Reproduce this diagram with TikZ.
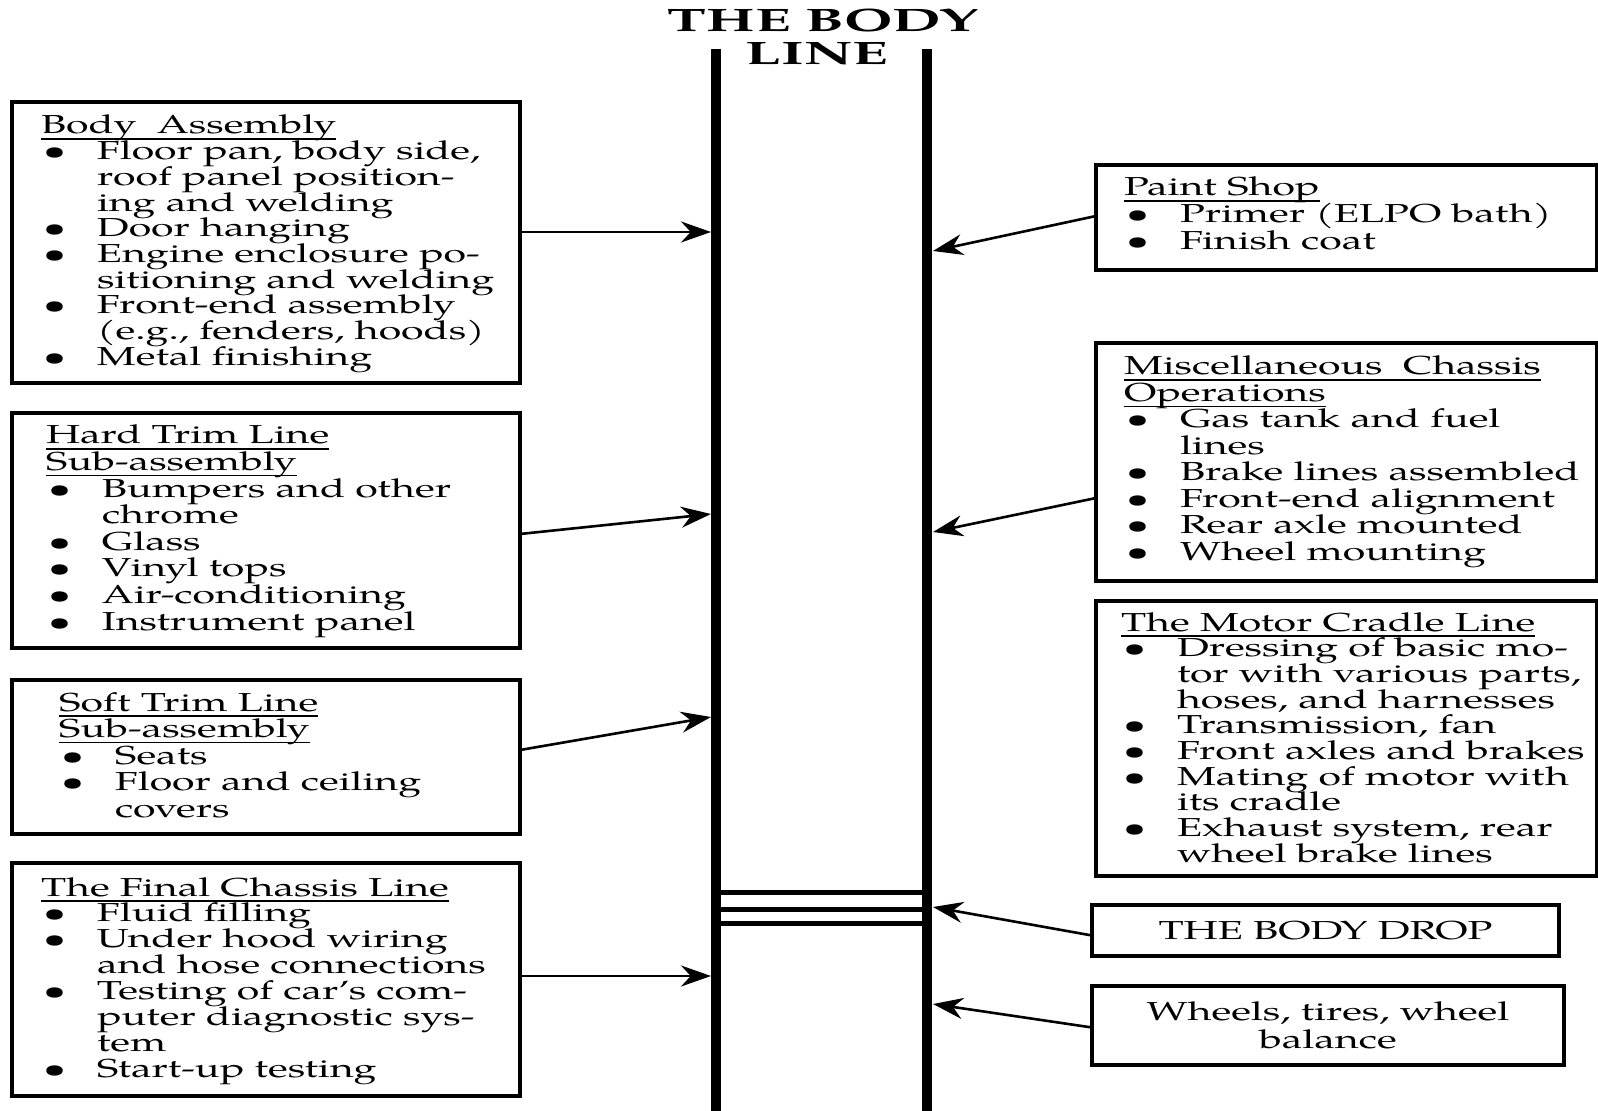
\documentclass[tikz,border=0pt]{standalone}
\usepackage{fontspec}
\setmainfont{TeX Gyre Pagella}[FakeStretch=1.58]
\newfontfamily\headfont{TeX Gyre Pagella}[FakeStretch=1.8]
\usetikzlibrary{arrows.meta}

% text block helpers: first baseline sits at the node's base anchor,
% lines are always exactly one baselineskip apart
\newcommand\boxtext[2]{\parbox[t]{260pt}{\fontsize{13pt}{#1}\selectfont
  \lineskiplimit=-100pt\lineskip=0pt\raggedright #2}}
\newsavebox\headbox
\newcommand\head[1]{\leavevmode\sbox\headbox{#1}\rlap{\rule[-2.8pt]{\wd\headbox}{0.6pt}}\usebox\headbox}
\newcommand\bul[1]{\hspace*{1pt}\makebox[27pt][l]{\textbullet}#1}
\newcommand\cnt[1]{\hspace*{28pt}#1}

\tikzset{
  rail/.style={line width=5pt},
  crossbar/.style={line width=2.5pt},
  panel/.style={draw, line width=2pt, rectangle, inner sep=0pt, outer sep=0pt, anchor=north west},
  listtext/.style={anchor=base west, inner sep=0pt, outer sep=0pt},
  feed/.style={line width=1.3pt, -{Stealth[length=15pt,width=10.5pt]}},
  plain/.style={font=\fontsize{13pt}{14pt}\selectfont, align=center},
}

\begin{document}
\begin{tikzpicture}[x=0.5pt, y=-0.5pt]
\useasboundingbox (0,0) rectangle (1598,1111);
\fill[white] (0,0) rectangle (1598,1111);

% heading
\node[anchor=base, inner sep=0pt] (title1) at (823,32) {\headfont\bfseries\fontsize{16.2pt}{17pt}\selectfont THE BODY};
\node[anchor=base, inner sep=0pt] (title2) at (817,65) {\headfont\bfseries\fontsize{16.2pt}{17pt}\selectfont LINE};

% the body line: two rails and the body-drop cross bars
\draw[rail] (716,49) -- (716,1111);
\draw[rail] (927,49) -- (927,1111);
\draw[crossbar] (716,892) -- (927,892);
\draw[crossbar] (716,909) -- (927,909);
\draw[crossbar] (716,923) -- (927,923);

% left side panels
\node[panel, minimum width=254pt, minimum height=140.5pt] (body) at (12,102) {};
\node[listtext] (bodyT) at (41,134) {\boxtext{12.85pt}{%
\head{Body\ \ Assembly}\\
\bul{Floor pan, body side,}\\
\cnt{roof panel position-}\\
\cnt{ing and welding}\\
\bul{Door hanging}\\
\bul{Engine enclosure po-}\\
\cnt{sitioning and welding}\\
\bul{Front-end assembly}\\
\cnt{(e.g., fenders, hoods)}\\
\bul{Metal finishing}}};

\node[panel, minimum width=254pt, minimum height=117.5pt] (hard) at (12,413) {};
\node[listtext] (hardT) at (46,444) {\boxtext{13.3pt}{%
\head{Hard Trim Line}\\
\head{Sub-assembly}\\
\bul{Bumpers and other}\\
\cnt{chrome}\\
\bul{Glass}\\
\bul{Vinyl tops}\\
\bul{Air-conditioning}\\
\bul{Instrument panel}}};

\node[panel, minimum width=254pt, minimum height=77pt] (soft) at (12,680) {};
\node[listtext] (softT) at (59,711) {\boxtext{13.25pt}{%
\head{Soft Trim Line}\\
\head{Sub-assembly}\\
\bul{Seats}\\
\bul{Floor and ceiling}\\
\cnt{covers}}};

\node[panel, minimum width=254pt, minimum height=116.5pt] (final) at (12,863) {};
\node[listtext] (finalT) at (41,896) {\boxtext{12.95pt}{%
\head{The Final Chassis Line}\\
\bul{Fluid filling}\\
\bul{Under hood wiring}\\
\cnt{and hose connections}\\
\bul{Testing of car’s com-}\\
\cnt{puter diagnostic sys-}\\
\cnt{tem}\\
\bul{Start-up testing}}};

% right side panels
\node[panel, minimum width=250.5pt, minimum height=52.5pt] (paint) at (1096,165) {};
\node[listtext] (paintT) at (1124,196) {\boxtext{13.5pt}{%
\head{Paint Shop}\\
\bul{Primer (ELPO bath)}\\
\bul{Finish coat}}};

\node[panel, minimum width=250.5pt, minimum height=119pt] (misc) at (1096,343) {};
\node[listtext] (miscT) at (1124,375) {\boxtext{13.25pt}{%
\head{Miscellaneous\ \ Chassis}\\
\head{Operations}\\
\bul{Gas tank and fuel}\\
\cnt{lines}\\
\bul{Brake lines assembled}\\
\bul{Front-end alignment}\\
\bul{Rear axle mounted}\\
\bul{Wheel mounting}}};

\node[panel, minimum width=250.5pt, minimum height=137.5pt] (motor) at (1096,601) {};
\node[listtext] (motorT) at (1121,631) {\boxtext{12.85pt}{%
\head{The Motor Cradle Line}\\
\bul{Dressing of basic mo-}\\
\cnt{tor with various parts,}\\
\cnt{hoses, and harnesses}\\
\bul{Transmission, fan}\\
\bul{Front axles and brakes}\\
\bul{Mating of motor with}\\
\cnt{its cradle}\\
\bul{Exhaust system, rear}\\
\cnt{wheel brake lines}}};

\node[panel, plain, minimum width=233.5pt, minimum height=25.5pt] (drop) at (1092,905) {THE BODY DROP};
\node[panel, plain, minimum width=236pt, minimum height=39.5pt] (wheels) at (1092,986) {Wheels, tires, wheel\\balance};

% arrow targets on the rails
\coordinate (inBody) at (711,232);
\coordinate (inHard) at (711,514);
\coordinate (inSoft) at (711,717);
\coordinate (inFinal) at (711,976);
\coordinate (inPaint) at (933,251);
\coordinate (inMisc) at (933,532);
\coordinate (inDrop) at (933,907);
\coordinate (inWheels) at (933,1004);

\draw[feed] (body.east |- inBody) -- (inBody);
\draw[feed] ([yshift=-1.75pt]hard.east) -- (inHard);
\draw[feed] ([yshift=3.5pt]soft.east) -- (inSoft);
\draw[feed] (final.east |- inFinal) -- (inFinal);
\draw[feed] ([yshift=0.75pt]paint.west) -- (inPaint);
\draw[feed] ([yshift=-18pt]misc.west) -- (inMisc);
\draw[feed] ([yshift=-2.5pt]drop.west) -- (inDrop);
\draw[feed] ([yshift=-1pt]wheels.west) -- (inWheels);
\end{tikzpicture}
\end{document}
